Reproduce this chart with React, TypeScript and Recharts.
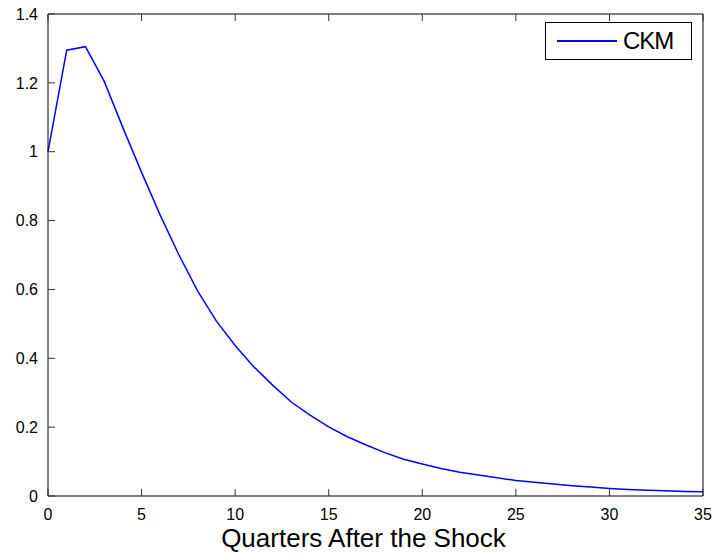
import { Line, LineChart, XAxis, YAxis } from "recharts";

const quarters = Array.from({ length: 36 }, (_, i) => i);
const ckm = [
  1.0, 1.295, 1.305, 1.205, 1.07, 0.94, 0.815, 0.7, 0.595, 0.508, 0.437, 0.375, 0.322, 0.273,
  0.235, 0.201, 0.172, 0.148, 0.126, 0.107, 0.093, 0.08, 0.069, 0.061, 0.053, 0.045, 0.04, 0.035,
  0.03, 0.026, 0.022, 0.019, 0.017, 0.015, 0.013, 0.012,
];
const xTicks = [0, 5, 10, 15, 20, 25, 30, 35];
const yTicks = [0, 0.2, 0.4, 0.6, 0.8, 1, 1.2, 1.4];
const xTitle = "Quarters After the Shock";

const data = quarters.map((q, i) => ({ q, ckm: ckm[i] }));

const FONT = "'Liberation Sans', Arial, sans-serif";
const TICK_LEN = 7;
const TICK_COLOR = "#333";

function BottomTick({ x, y, payload }: any) {
  const axisY = y - 13;
  return (
    <g>
      <line x1={x} x2={x} y1={axisY} y2={axisY - TICK_LEN} stroke={TICK_COLOR} />
      <text x={x} y={y} dy="0.71em" textAnchor="middle" fontSize={16} fontFamily={FONT} fill="#000">
        {payload.value}
      </text>
    </g>
  );
}

function LeftTick({ x, y, payload }: any) {
  const axisX = x + 10;
  return (
    <g>
      <line x1={axisX} x2={axisX + TICK_LEN} y1={y} y2={y} stroke={TICK_COLOR} />
      <text x={x} y={y} dy="0.36em" textAnchor="end" fontSize={16} fontFamily={FONT} fill="#000">
        {String(payload.value)}
      </text>
    </g>
  );
}

function TopTick({ x, y }: any) {
  return <line x1={x} x2={x} y1={y} y2={y + TICK_LEN} stroke={TICK_COLOR} />;
}

function RightTick({ x, y }: any) {
  return <line x1={x} x2={x - TICK_LEN} y1={y} y2={y} stroke={TICK_COLOR} />;
}

function AxisTitle({ viewBox }: any) {
  const cx = viewBox.x + viewBox.width / 2 - 12;
  return (
    <text x={cx} y={viewBox.y + viewBox.height - 9} textAnchor="middle" fontSize={26} fontFamily={FONT} fill="#000">
      {xTitle}
    </text>
  );
}

export default function App() {
  return (
    <div style={{ position: "absolute", left: 0, top: 0, width: 714, height: 556, background: "#fff" }}>
      <LineChart width={714} height={556} data={data} margin={{ top: 0, right: 0, bottom: 0, left: 0 }}>
        <XAxis
          dataKey="q"
          type="number"
          domain={[0, 35]}
          ticks={xTicks}
          height={60}
          tickSize={0}
          tickMargin={13}
          tick={<BottomTick />}
          axisLine={{ stroke: "#000" }}
          interval={0}
          label={<AxisTitle />}
        />
        <XAxis
          xAxisId="top"
          orientation="top"
          dataKey="q"
          type="number"
          domain={[0, 35]}
          ticks={xTicks}
          height={14}
          tickSize={0}
          tickMargin={0}
          tick={<TopTick />}
          axisLine={{ stroke: "#000" }}
          interval={0}
        />
        <YAxis
          type="number"
          domain={[0, 1.4]}
          ticks={yTicks}
          width={48}
          tickSize={0}
          tickMargin={10}
          tick={<LeftTick />}
          axisLine={{ stroke: "#000" }}
          interval={0}
        />
        <YAxis
          yAxisId="right"
          orientation="right"
          type="number"
          domain={[0, 1.4]}
          ticks={yTicks}
          width={11}
          tickSize={0}
          tickMargin={0}
          tick={<RightTick />}
          axisLine={{ stroke: "#000" }}
          interval={0}
        />
        <Line
          type="linear"
          dataKey="ckm"
          stroke="#0000ff"
          strokeWidth={1.5}
          dot={false}
          activeDot={false}
          isAnimationActive={false}
        />
      </LineChart>
      <div
        style={{
          position: "absolute",
          left: 545,
          top: 22,
          width: 147,
          height: 38,
          border: "1px solid #000",
          background: "#fff",
          boxSizing: "border-box",
          display: "flex",
          alignItems: "center",
          fontFamily: FONT,
          fontSize: 24,
          letterSpacing: -1,
        }}
      >
        <div style={{ width: 60, height: 2, background: "#0000ff", marginLeft: 11, marginRight: 6 }} />
        <span>CKM</span>
      </div>
    </div>
  );
}
